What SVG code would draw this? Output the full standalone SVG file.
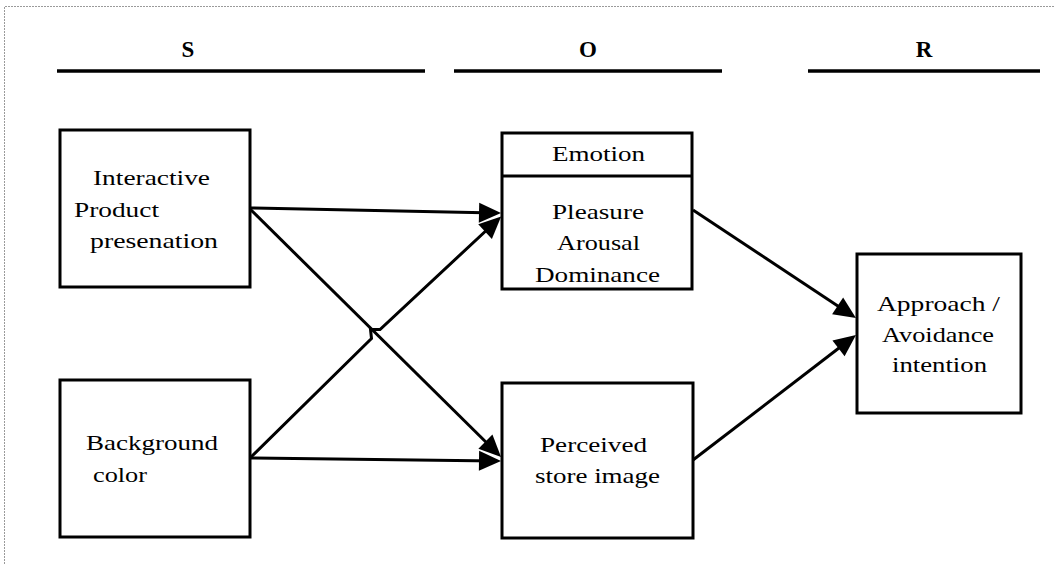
<svg xmlns="http://www.w3.org/2000/svg" width="1055" height="564" viewBox="0 0 1055 564">
  <defs>
    <style>
      .box { fill: #ffffff; stroke: #000000; stroke-width: 3; }
      .hdr { font-family: 'Liberation Serif', 'DejaVu Serif', 'Times New Roman', serif; font-size: 23px; font-weight: bold; fill: #000; text-anchor: middle; }
      .lbl { font-family: 'Liberation Serif', 'DejaVu Serif', 'Times New Roman', serif; font-size: 22px; fill: #000; }
      .rule { stroke: #000; stroke-width: 3.5; }
      .conn { fill: none; stroke: #000; stroke-width: 3; stroke-linejoin: miter; }
      .border { fill: none; stroke: #9a9a9a; stroke-width: 1; stroke-dasharray: 2 1; }
    </style>
    <marker id="arrow" markerUnits="userSpaceOnUse" markerWidth="24" markerHeight="22" viewBox="0 -11 22 22" refX="17" refY="0" orient="auto">
      <path d="M0,-10 L22,0 L0,10 z" fill="#000"/>
    </marker>
  </defs>

  <rect width="1055" height="564" fill="#ffffff"/>
  <path class="border" d="M4.5,564 L4.5,6.5 L1055,6.5"/>

  <g id="headers">
    <text class="hdr" x="188" y="57">S</text>
    <line class="rule" x1="57" y1="71" x2="425" y2="71"/>
    <text class="hdr" x="588" y="57">O</text>
    <line class="rule" x1="454" y1="71" x2="722" y2="71"/>
    <text class="hdr" x="924" y="57">R</text>
    <line class="rule" x1="808" y1="71" x2="1040" y2="71"/>
  </g>

  <g id="connectors">
    <path class="conn" d="M250,208 L496,213" marker-end="url(#arrow)"/>
    <path class="conn" d="M250,209 L497.5,453.5" marker-end="url(#arrow)"/>
    <path class="conn" d="M250,458 L371.5,338.5 L370.5,329.5 L380,329.5 L497.5,220" marker-end="url(#arrow)"/>
    <path class="conn" d="M250,458 L496,461" marker-end="url(#arrow)"/>
    <path class="conn" d="M693,210 L851.8,315.2" marker-end="url(#arrow)"/>
    <path class="conn" d="M693,460 L852,338" marker-end="url(#arrow)"/>
  </g>

  <g id="node-interactive">
    <rect class="box" x="60" y="130" width="190" height="157"/>
    <text class="lbl" x="93" y="185" textLength="117" lengthAdjust="spacingAndGlyphs">Interactive</text>
    <text class="lbl" x="74" y="217" textLength="85" lengthAdjust="spacingAndGlyphs">Product</text>
    <text class="lbl" x="90" y="248" textLength="128" lengthAdjust="spacingAndGlyphs">presenation</text>
  </g>

  <g id="node-background">
    <rect class="box" x="60" y="380" width="190" height="157"/>
    <text class="lbl" x="86" y="450" textLength="132" lengthAdjust="spacingAndGlyphs">Background</text>
    <text class="lbl" x="93" y="482" textLength="54" lengthAdjust="spacingAndGlyphs">color</text>
  </g>

  <g id="node-emotion">
    <rect class="box" x="502" y="133" width="190" height="156"/>
    <line x1="502" y1="176" x2="692" y2="176" stroke="#000" stroke-width="3"/>
    <text class="lbl" x="552" y="161" textLength="93" lengthAdjust="spacingAndGlyphs">Emotion</text>
    <text class="lbl" x="552" y="219" textLength="92" lengthAdjust="spacingAndGlyphs">Pleasure</text>
    <text class="lbl" x="557" y="250" textLength="83" lengthAdjust="spacingAndGlyphs">Arousal</text>
    <text class="lbl" x="535" y="282" textLength="125" lengthAdjust="spacingAndGlyphs">Dominance</text>
  </g>

  <g id="node-perceived">
    <rect class="box" x="502" y="383" width="191" height="155"/>
    <text class="lbl" x="540" y="452" textLength="107" lengthAdjust="spacingAndGlyphs">Perceived</text>
    <text class="lbl" x="535" y="483" textLength="125" lengthAdjust="spacingAndGlyphs">store image</text>
  </g>

  <g id="node-approach">
    <rect class="box" x="857" y="254" width="164" height="159"/>
    <text class="lbl" x="877" y="311" textLength="123" lengthAdjust="spacingAndGlyphs">Approach /</text>
    <text class="lbl" x="882" y="342" textLength="112" lengthAdjust="spacingAndGlyphs">Avoidance</text>
    <text class="lbl" x="892" y="372" textLength="95" lengthAdjust="spacingAndGlyphs">intention</text>
  </g>
</svg>
